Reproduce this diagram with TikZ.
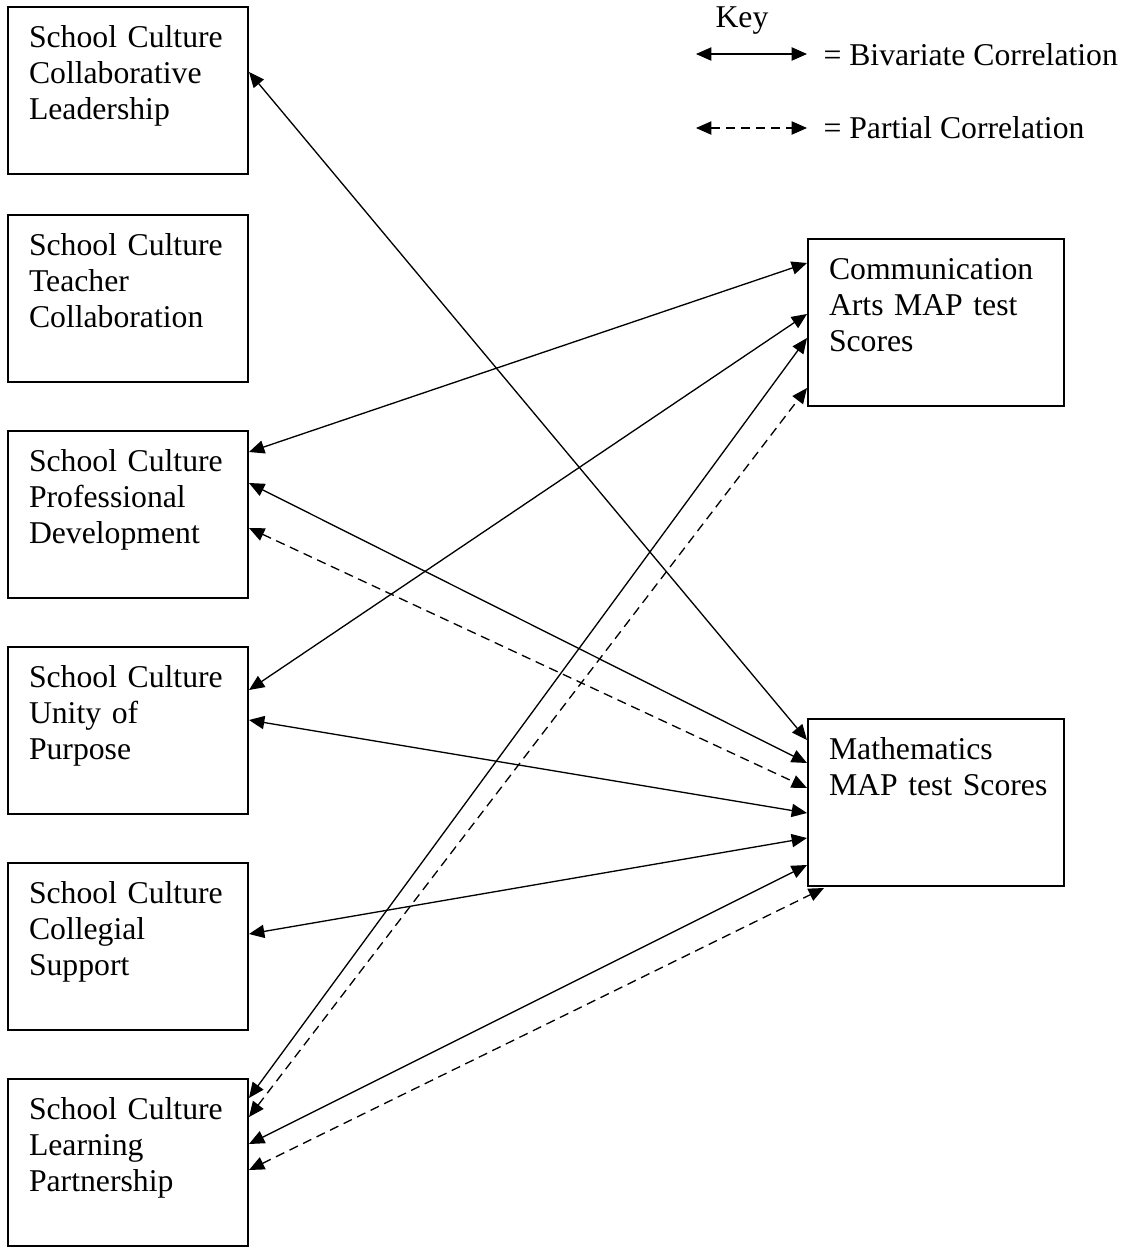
\documentclass[tikz,border=0pt]{standalone}
\usepackage{fontspec}
\setmainfont{Liberation Serif}
\usetikzlibrary{arrows.meta,calc}

\begin{document}
\begin{tikzpicture}[
  x=0.3785pt, y=-0.3785pt,
  every node/.style={font={\fontsize{12}{13.8}\selectfont}},
  box/.style={draw, line width=0.76pt, rectangle, outer sep=0pt,
    anchor=north west, inner xsep=0pt, inner ysep=0pt,
    execute at begin node={\raggedright\leftskip=7.95pt\relax},
    minimum height=63.21pt, text height=15.14pt, text depth=48.07pt},
  lbox/.style={box, minimum width=90.84pt, text width=90.84pt},
  rbox/.style={box, minimum width=96.9pt, text width=96.9pt},
  biv/.style={line width=0.5pt, {Triangle[length=5.8pt,width=5pt]}-{Triangle[length=5.8pt,width=5pt]}},
  part/.style={biv, dash pattern=on 3.5pt off 2.2pt},
  keytext/.style={anchor=base west, inner sep=0pt}
]
\useasboundingbox (0,0) rectangle (1131,1247);

% school culture factors (left column)
\node[lbox] (cl) at (8,7)    {School Culture\\Collaborative\\Leadership};
\node[lbox] (tc) at (8,215)  {School Culture\\Teacher\\Collaboration};
\node[lbox] (pd) at (8,431)  {School Culture\\Professional\\Development};
\node[lbox] (up) at (8,647)  {School Culture\\Unity of\\Purpose};
\node[lbox] (cs) at (8,863)  {School Culture\\Collegial\\Support};
\node[lbox] (lp) at (8,1079) {School Culture\\Learning\\Partnership};

% test scores (right column)
\node[rbox] (ca) at (808,239) {Communication\\Arts MAP test\\Scores};
\node[rbox] (ma) at (808,719) {Mathematics\\MAP test Scores};

% key
\node[keytext] (key) at (715,27) {Key};
\coordinate (kba) at (696,54);
\coordinate (kbb) at (807,54);
\coordinate (kpa) at (696,128);
\coordinate (kpb) at (807,128);
\draw[biv] (kba) -- (kbb);
\draw[part] (kpa) -- (kpb);
\node[keytext] (kbt) at (823,65)  {= Bivariate Correlation};
\node[keytext] (kpt) at (823,138) {= Partial Correlation};

% correlations with communication arts scores
\draw[biv]  ($(pd.north east)+(1,21)$) -- ($(ca.north west)+(-1,24)$);
\draw[biv]  ($(up.north east)+(1,43)$) -- ($(ca.north west)+(-1,75)$);
\draw[biv]  ($(lp.north east)+(1,19)$) -- ($(ca.north west)+(-1,99)$);
\draw[part] ($(lp.north east)+(1,38)$) -- ($(ca.north west)+(-1,149)$);

% correlations with mathematics scores
\draw[biv]  ($(cl.north east)+(1,65)$) -- ($(ma.north west)+(-1,21)$);
\draw[biv]  ($(pd.north east)+(1,52)$) -- ($(ma.north west)+(-1,44)$);
\draw[part] ($(pd.north east)+(1,97)$) -- ($(ma.north west)+(-1,69)$);
\draw[biv]  ($(up.north east)+(1,73)$) -- ($(ma.north west)+(-1,94)$);
\draw[biv]  ($(cs.north east)+(1,71)$) -- ($(ma.north west)+(-1,119)$);
\draw[biv]  ($(lp.north east)+(1,65)$) -- ($(ma.north west)+(-1,146)$);
\draw[part] ($(lp.north east)+(1,91)$) -- ($(ma.south west)+(16,2)$);
\end{tikzpicture}
\end{document}
